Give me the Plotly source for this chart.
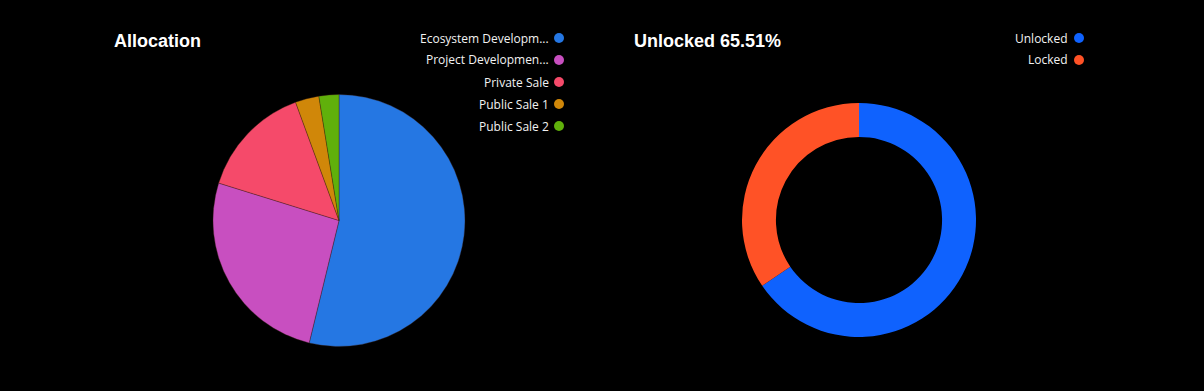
import plotly.graph_objects as go

W, H = 1204, 391

alloc_labels = ["Ecosystem Development", "Project Development", "Private Sale", "Public Sale 1", "Public Sale 2"]
alloc_legend = ["Ecosystem Developm...", "Project Developmen...", "Private Sale", "Public Sale 1", "Public Sale 2"]
alloc_values = [53.8, 26.0, 14.6, 3.04, 2.56]
alloc_colors = ["#2577E3", "#C84FC0", "#F54A6A", "#D08709", "#60B00B"]

unlock_labels = ["Unlocked", "Locked"]
unlock_values = [65.51, 34.49]
unlock_colors = ["#0F62FE", "#FF5226"]


def px_x(x):
    return x / W


def px_y(y):
    return 1 - y / H


fig = go.Figure()

fig.add_trace(go.Pie(
    labels=alloc_labels, values=alloc_values, sort=False, direction="clockwise", rotation=0,
    marker=dict(colors=alloc_colors, line=dict(color="rgba(60,30,20,0.6)", width=0.6)),
    textinfo="none", showlegend=False,
    domain=dict(x=[px_x(213), px_x(465)], y=[px_y(346.5), px_y(94.5)]),
))

fig.add_trace(go.Pie(
    labels=unlock_labels, values=unlock_values, sort=False, direction="clockwise", rotation=0,
    hole=0.71, marker=dict(colors=unlock_colors, line=dict(width=0)),
    textinfo="none", showlegend=False,
    domain=dict(x=[px_x(742), px_x(976)], y=[px_y(337), px_y(103)]),
))

annotations = []
shapes = []

annotations.append(dict(text="<b>Allocation</b>", x=px_x(112), y=px_y(41), xref="paper", yref="paper",
                        xanchor="left", yanchor="middle", showarrow=False,
                        font=dict(family="Liberation Sans, Arial", size=18, color="#ffffff")))
annotations.append(dict(text="<b>Unlocked 65.51%</b>", x=px_x(632), y=px_y(41), xref="paper", yref="paper",
                        xanchor="left", yanchor="middle", showarrow=False,
                        font=dict(family="Liberation Sans, Arial", size=18, color="#ffffff")))


def add_legend(names, colors, text_right, dot_x, y0, step):
    for i, (n, c) in enumerate(zip(names, colors)):
        y = y0 + i * step
        annotations.append(dict(text=n, x=px_x(text_right), y=px_y(y), xref="paper", yref="paper",
                                xanchor="right", yanchor="middle", showarrow=False,
                                font=dict(family="Open Sans, Noto Sans", size=12, color="#f2f2f2")))
        r = 5
        shapes.append(dict(type="circle", xref="paper", yref="paper",
                           x0=px_x(dot_x - r), x1=px_x(dot_x + r),
                           y0=px_y(y + r), y1=px_y(y - r),
                           fillcolor=c, line=dict(width=0)))


add_legend(alloc_legend, alloc_colors, 551, 559, 38, 22)
add_legend(unlock_labels, unlock_colors, 1070, 1079, 38, 22)

fig.update_layout(
    width=W, height=H,
    margin=dict(l=0, r=0, t=0, b=0),
    paper_bgcolor="#000000", plot_bgcolor="#000000",
    annotations=annotations, shapes=shapes,
    showlegend=False,
)

fig.write_html("out.html", config={"displayModeBar": False},
               post_script="document.body.style.margin='0';document.body.style.background='#000';")
